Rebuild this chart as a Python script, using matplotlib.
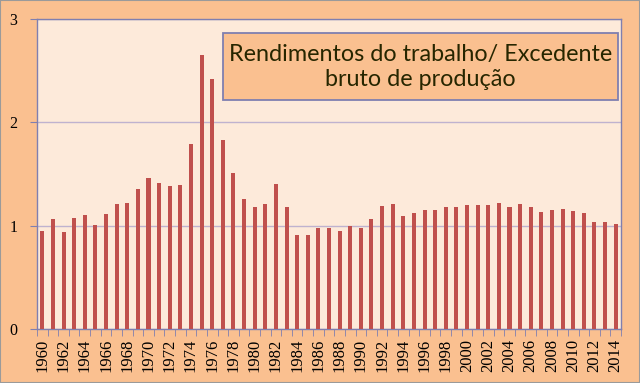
import numpy as np
import matplotlib
matplotlib.use('Agg')
import matplotlib.pyplot as plt
from matplotlib.patches import Rectangle

# dados
anos = list(range(1960, 2015))
valores = [
    0.95, 1.06, 0.94, 1.07, 1.10, 1.01, 1.11, 1.21, 1.22, 1.35,
    1.46, 1.41, 1.38, 1.39, 1.79, 2.65, 2.42, 1.83, 1.51, 1.26,
    1.18, 1.21, 1.40, 1.18, 0.91, 0.91, 0.98, 0.98, 0.95, 1.00,
    0.98, 1.06, 1.19, 1.21, 1.09, 1.12, 1.15, 1.15, 1.18, 1.18,
    1.20, 1.20, 1.20, 1.22, 1.18, 1.21, 1.18, 1.13, 1.15, 1.16,
    1.14, 1.12, 1.04, 1.04, 1.02,
]
titulo = "Rendimentos do trabalho/ Excedente\nbruto de produção"

W, H = 640, 383
fig = plt.figure(figsize=(W / 100, H / 100), dpi=100)
fig.patch.set_facecolor('#FAC090')
fig.patches.append(Rectangle((0, 0), 1, 1, transform=fig.transFigure, fill=False,
                             edgecolor='#9A9A9A', linewidth=1.5))

ax = fig.add_axes([37 / W, 1 - 329 / H, (621 - 37) / W, (329 - 19) / H])
ax.set_facecolor('#FDEADA')

x = np.arange(len(anos))
ax.bar(x, valores, width=0.38, color='#C0504D', zorder=3)

ax.set_xlim(-0.5, len(anos) - 0.5)
ax.set_ylim(0, 3)
ax.set_yticks([0, 1, 2, 3])
ax.grid(axis='y', color='#BFB2CF', linewidth=1, zorder=0)

for s in ax.spines.values():
    s.set_color('#7F7FB0')
    s.set_linewidth(1)

# anos de 2 em 2, marcas entre as categorias
ax.set_xticks(x[::2])
ax.set_xticklabels([str(a) for a in anos[::2]], rotation=90, fontsize=12,
                   family='Liberation Serif')
ax.set_xticks(np.arange(-0.5, len(anos)), minor=True)
ax.tick_params(axis='x', which='major', length=0, pad=7)
ax.tick_params(axis='x', which='minor', length=5, color='#7F7FB0')
ax.tick_params(axis='y', length=5, color='#7F7FB0', pad=9)
for lbl in ax.get_yticklabels():
    lbl.set_family('Liberation Serif')
    lbl.set_fontsize(11.5)

# caixa do título
ax.add_patch(Rectangle((0.3185, 0.739), 0.995 - 0.3185, 0.955 - 0.739,
                       transform=ax.transAxes, facecolor='#FAC090',
                       edgecolor='#7F7FB0', linewidth=1.3, zorder=5))
ax.text(0.6567, 0.845, titulo, transform=ax.transAxes, ha='center', va='center',
        fontsize=16.8, family='Lato', color='#262600', linespacing=1.2, zorder=6)

fig.savefig('out.png', dpi=100, facecolor=fig.get_facecolor())
